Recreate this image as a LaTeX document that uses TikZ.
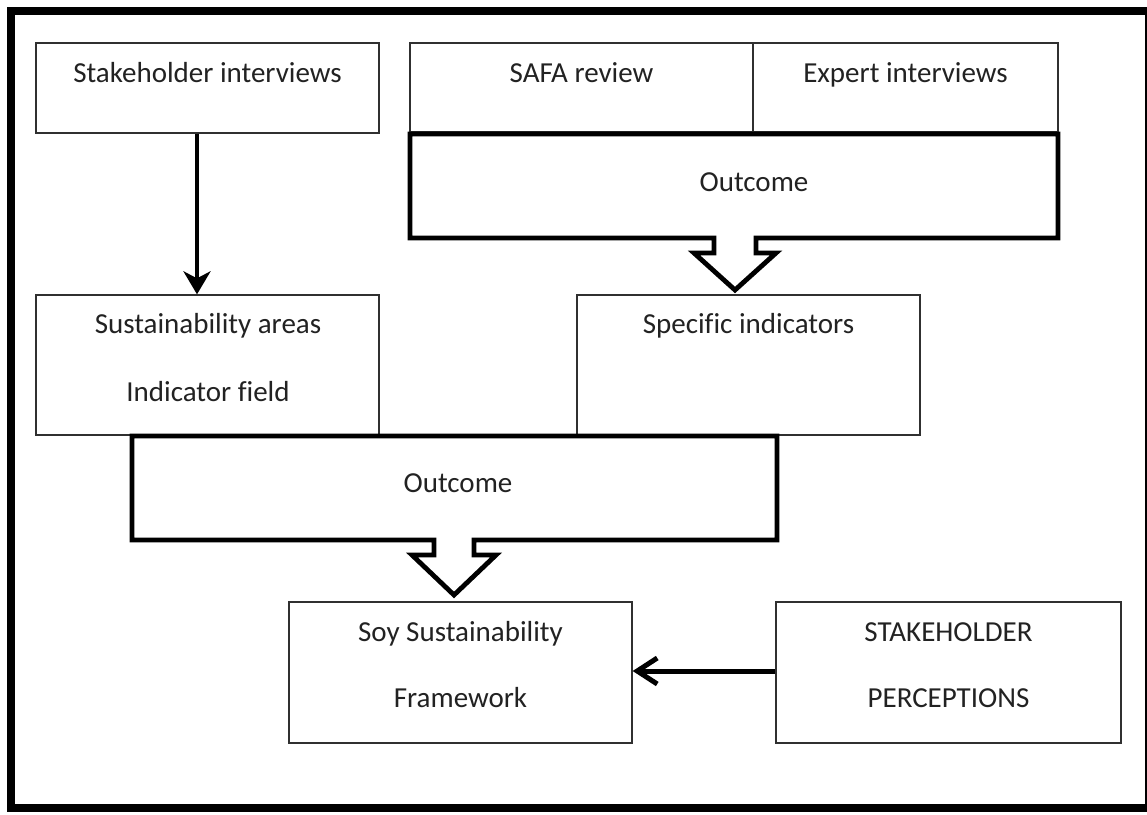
\documentclass[tikz,border=0pt]{standalone}
\usepackage{fontspec}
\setmainfont{Carlito}[Ligatures=NoCommon]
\usetikzlibrary{arrows.meta}
\definecolor{ink}{HTML}{222222}
\definecolor{rule}{HTML}{303030}
\begin{document}
\begin{tikzpicture}[x=1pt,y=-1pt,
  box/.style 2 args={draw=rule, line width=1.3pt, rectangle, inner sep=0pt,
    minimum width=#1pt, minimum height=#2pt, fill=white},
  lbl/.style={font=\fontsize{29}{34}\selectfont, text=ink, anchor=base, inner sep=0pt},
  block/.style={draw=black, line width=4.8pt, fill=white},
  frame/.style={draw=black, line width=8pt},
  downarrow/.style={draw=black, line width=4pt, -{Stealth[length=23pt,width=27pt,inset=7pt]}},
  leftarrow/.style={draw=black, line width=5pt, -{Straight Barb[length=20pt,width=26pt]}}]
\useasboundingbox (0,0) rectangle (1147,814);

% outer frame
\draw[frame] (1147,10.5) -- (11,10.5) -- (11,808) -- (1147,808);
\draw[black, line width=1.6pt] (1146,10) -- (1146,808);

% sources
\node[box={343}{90}] (si) at (207.5,88) {};
\node[lbl] (sit) at (207.5,82) {Stakeholder interviews};
\node[box={343}{89}] (safa) at (581.5,87.5) {};
\node[lbl] (safat) at (581.5,82) {SAFA review};
\node[box={305}{89}] (exp) at (905.5,87.5) {};
\node[lbl] (expt) at (905.5,82) {Expert interviews};

% first outcome block arrow
\draw[block] (410,134) -- (1058,134) -- (1058,238) -- (756,238) -- (756,253)
  -- (776,253) -- (735,290) -- (694,253) -- (714,253) -- (714,238)
  -- (410,238) -- cycle;
\node[lbl] (o1) at (754,191) {Outcome};

% intermediate results
\node[box={343}{140}] (sust) at (207.5,365) {};
\node[lbl] (sustt1) at (208,333) {Sustainability areas};
\node[lbl] (sustt2) at (208,401) {Indicator field};
\node[box={343}{140}] (spec) at (748.5,365) {};
\node[lbl] (spect) at (748.5,333) {Specific indicators};

% second outcome block arrow
\draw[block] (132,436) -- (777,436) -- (777,540) -- (474,540) -- (474,555)
  -- (496,555) -- (454,595) -- (412,555) -- (434,555) -- (434,540)
  -- (132,540) -- cycle;
\node[lbl] (o2) at (458,492) {Outcome};

% framework and perceptions
\node[box={343}{141}] (soy) at (460.5,672.5) {};
\node[lbl] (soyt1) at (460.5,641) {Soy Sustainability};
\node[lbl] (soyt2) at (460.5,707) {Framework};
\node[box={345}{141}] (perc) at (948.5,672.5) {};
\node[lbl] (perct1) at (948.5,641) {STAKEHOLDER};
\node[lbl] (perct2) at (948.5,707) {PERCEPTIONS};

% connectors
\coordinate (vx) at (197,0);
\draw[downarrow] (vx |- si.south) -- (vx |- sust.north);
\coordinate (hy) at (0,671);
\draw[leftarrow] (perc.west |- hy) -- (soy.east |- hy);
\end{tikzpicture}
\end{document}
